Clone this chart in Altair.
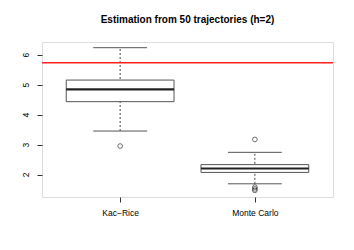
import json
import altair as alt
import pandas as pd

categories = ["Kac\u2212Rice", "Monte Carlo"]
lower_whisker = [3.45, 1.69]
q1 = [4.43, 2.07]
median = [4.84, 2.20]
q3 = [5.15, 2.33]
upper_whisker = [6.23, 2.74]
outlier_group = ["Kac\u2212Rice", "Monte Carlo", "Monte Carlo", "Monte Carlo", "Monte Carlo"]
outlier_values = [2.95, 3.17, 1.58, 1.52, 1.47]
true_value = [5.73]
y_ticks = [2, 3, 4, 5, 6]

stats = pd.DataFrame({
    "cat": categories,
    "pos": list(range(1, len(categories) + 1)),
    "lo": lower_whisker,
    "q1": q1,
    "med": median,
    "q3": q3,
    "hi": upper_whisker,
})
outl = pd.DataFrame({
    "cat": outlier_group,
    "val": outlier_values,
})
outl["pos"] = outl["cat"].map({c: i + 1 for i, c in enumerate(categories)})
ref = pd.DataFrame({"val": true_value})

xscale = alt.Scale(domain=[0.42, 2.58], nice=False, zero=False)
yscale = alt.Scale(domain=[1.25, 6.42], nice=False, zero=False)
FONT = "Liberation Sans"

label_expr = json.dumps(categories) + "[datum.value - 1]"

base = alt.Chart(stats).transform_calculate(
    bl="datum.pos - 0.4", br="datum.pos + 0.4",
    cl="datum.pos - 0.2", cr="datum.pos + 0.2",
)

xaxis = alt.Axis(values=[1, 2], labelExpr=label_expr, title=None, domain=False,
                 grid=False, tickSize=5, tickColor="#333", labelPadding=6,
                 labelFont=FONT, labelFontSize=8.5, labelColor="black",
                 labelOverlap=False)
yaxis = alt.Axis(values=y_ticks, title=None, domain=False, grid=False,
                 tickSize=5, tickColor="#333", labelAngle=270, labelAlign="center",
                 labelBaseline="bottom", labelPadding=7, labelFont=FONT,
                 labelFontSize=8.5, labelColor="black", labelOverlap=False)


def X(f):
    return alt.X(f, scale=xscale, axis=xaxis)


def Y(f):
    return alt.Y(f, scale=yscale, axis=yaxis)


whisk = base.mark_rule(color="#444", strokeDash=[2, 2], strokeWidth=1).encode(
    x=X("pos:Q"), y=Y("lo:Q"), y2="hi:Q")
caps_lo = base.mark_rule(color="#555", strokeWidth=1).encode(
    x=X("cl:Q"), x2="cr:Q", y=Y("lo:Q"))
caps_hi = base.mark_rule(color="#555", strokeWidth=1).encode(
    x=X("cl:Q"), x2="cr:Q", y=Y("hi:Q"))
box = base.mark_rect(fill="white", stroke="#555", strokeWidth=1).encode(
    x=X("bl:Q"), x2="br:Q", y=Y("q1:Q"), y2="q3:Q")
med = base.mark_rule(color="#222", strokeWidth=2.2).encode(
    x=X("bl:Q"), x2="br:Q", y=Y("med:Q"))
pts = alt.Chart(outl).mark_point(shape="circle", filled=False, color="black",
                                 size=22, strokeWidth=0.8).encode(
    x=X("pos:Q"), y=Y("val:Q"))
redline = alt.Chart(ref).mark_rule(color="#ff2020", strokeWidth=1.5).encode(
    y=Y("val:Q"))

chart = alt.layer(whisk, caps_lo, caps_hi, box, med, pts, redline).properties(
    width=291, height=155,
    title=alt.TitleParams("Estimation from 50 trajectories (h=2)", font=FONT,
                          fontSize=10, fontWeight="bold", anchor="middle",
                          offset=17, color="black"),
    autosize=alt.AutoSizeParams(type="none"),
    padding={"left": 34, "top": 34, "right": 13, "bottom": 30},
).configure_view(stroke="#444", strokeWidth=1).configure(background="white")

chart.save("out.html", embed_options={"renderer": "svg", "actions": False})
